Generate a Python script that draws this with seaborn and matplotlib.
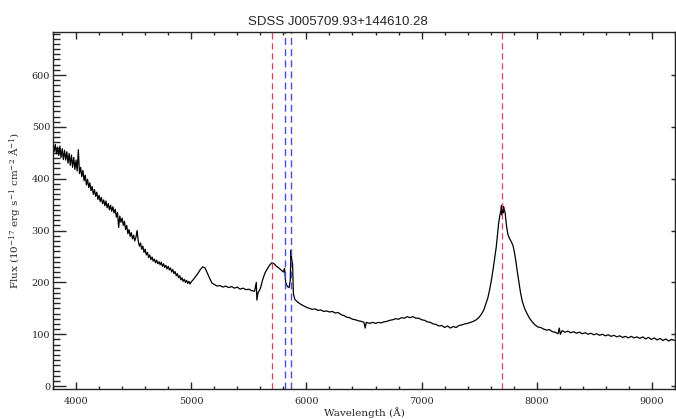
import numpy as np
import pandas as pd
import matplotlib
matplotlib.use("Agg")
import matplotlib.pyplot as plt
from matplotlib.ticker import MultipleLocator
import seaborn as sns

# ---------------- data ----------------
wave_blue = [
    3800, 3810, 3820, 3830, 3840, 3850, 3860, 3870, 3880, 3890,
    3900, 3910, 3920, 3930, 3940, 3950, 3960, 3970, 3980, 3990,
    4000, 4010, 4020, 4030, 4040, 4050, 4060, 4070, 4080, 4090,
    4100, 4110, 4120, 4130, 4140, 4150, 4160, 4170, 4180, 4190,
    4200, 4210, 4220, 4230, 4240, 4250, 4260, 4270, 4280, 4290,
    4300, 4310, 4320, 4330, 4340, 4350, 4360, 4370, 4380, 4390,
    4400, 4410, 4420, 4430, 4440, 4450, 4460, 4470, 4480, 4490,
    4500, 4510, 4520, 4530, 4540, 4550, 4560, 4570, 4580, 4590,
    4600, 4610, 4620, 4630, 4640, 4650, 4660, 4670, 4680, 4690,
    4700, 4710, 4720, 4730, 4740, 4750, 4760, 4770, 4780, 4790,
    4800, 4810, 4820, 4830, 4840, 4850, 4860, 4870, 4880, 4890,
    4900, 4910, 4920, 4930, 4940, 4950, 4960, 4970, 4980, 4990,
]
flux_blue = [
    470, 452, 466, 448, 461, 445, 463, 441, 458, 437,
    455, 436, 452, 430, 449, 426, 446, 422, 441, 418,
    436, 415, 456, 410, 422, 404, 416, 396, 407, 388,
    399, 383, 392, 377, 385, 370, 379, 366, 374, 360,
    368, 356, 364, 352, 359, 348, 357, 344, 352, 340,
    349, 337, 346, 334, 341, 326, 335, 306, 328, 316,
    324, 310, 318, 302, 310, 294, 302, 289, 296, 284,
    291, 280, 287, 300, 280, 270, 276, 264, 270, 258,
    264, 253, 258, 248, 253, 244, 249, 241, 245, 238,
    243, 236, 240, 234, 239, 231, 236, 229, 233, 226,
    231, 224, 228, 220, 225, 217, 221, 213, 217, 209,
    213, 205, 209, 202, 206, 200, 204, 198, 202, 197,
]
wave_red = [
    5000, 5020, 5040, 5060, 5080, 5100, 5120, 5140, 5160, 5180,
    5200, 5225, 5250, 5275, 5300, 5325, 5350, 5375, 5400, 5425,
    5450, 5475, 5500, 5525, 5550, 5565, 5570, 5580, 5600, 5620,
    5640, 5660, 5680, 5700, 5720, 5740, 5760, 5780, 5800, 5810,
    5820, 5835, 5850, 5860, 5866, 5872, 5880, 5887, 5900, 5925,
    5950, 5975, 6000, 6025, 6050, 6075, 6100, 6125, 6150, 6175,
    6200, 6225, 6250, 6275, 6300, 6325, 6350, 6375, 6400, 6425,
    6450, 6475, 6500, 6510, 6520, 6550, 6575, 6600, 6625, 6650,
    6675, 6700, 6725, 6750, 6775, 6800, 6825, 6850, 6875, 6900,
    6925, 6950, 6975, 7000, 7025, 7050, 7075, 7100, 7125, 7150,
    7175, 7200, 7225, 7250, 7275, 7300, 7325, 7350, 7375, 7400,
    7425, 7450, 7475, 7500, 7520, 7540, 7560, 7575, 7590, 7605,
    7620, 7635, 7648, 7660, 7670, 7680, 7688, 7693, 7697, 7702,
    7707, 7712, 7718, 7725, 7732, 7740, 7750, 7765, 7780, 7795,
    7807, 7818, 7829, 7845, 7859, 7875, 7894, 7915, 7937, 7960,
    7985, 8010, 8035, 8060, 8085, 8110, 8135, 8160, 8185, 8195,
    8205, 8220, 8245, 8270, 8295, 8320, 8345, 8370, 8395, 8420,
    8445, 8470, 8495, 8520, 8545, 8570, 8595, 8620, 8645, 8670,
    8695, 8720, 8745, 8770, 8795, 8820, 8845, 8870, 8895, 8920,
    8945, 8970, 8995, 9020, 9045, 9070, 9095, 9120, 9145, 9170,
    9200,
]
flux_red = [
    201, 206, 212, 218, 225, 230, 228, 218, 208, 199,
    196, 193, 194, 191, 193, 190, 192, 189, 191, 187,
    189, 186, 187, 184, 183, 200, 166, 180, 188, 205,
    218, 226, 233, 238, 236, 231, 228, 224, 220, 227,
    200, 192, 190, 204, 262, 245, 236, 178, 167, 162,
    158, 155, 152, 150, 148, 149, 146, 147, 144, 145,
    143, 144, 141, 142, 138, 136, 133, 132, 129, 128,
    126, 125, 123, 112, 123, 121, 123, 121, 123, 122,
    124, 125, 127, 128, 130, 129, 132, 131, 134, 132,
    134, 131, 131, 128, 127, 124, 123, 120, 119, 116,
    117, 113, 116, 112, 115, 113, 117, 118, 120, 121,
    123, 125, 128, 133, 139, 147, 160, 170, 185, 203,
    224, 248, 268, 295, 316, 330, 338, 348, 330, 350,
    334, 346, 340, 335, 320, 305, 292, 284, 278, 270,
    257, 242, 224, 200, 180, 163, 150, 140, 131, 124,
    118, 114, 113, 110, 108, 109, 105, 104, 101, 112,
    100, 107, 104, 106, 103, 105, 102, 104, 101, 103,
    100, 102, 99, 101, 98, 100, 97, 99, 96, 98,
    95, 97, 94, 96, 93, 96, 93, 95, 92, 95,
    91, 94, 90, 93, 89, 92, 88, 91, 87, 90,
    88,
]
red_lines = [5700, 7700]
blue_lines = [5818, 5870]
title = "SDSS J005709.93+144610.28"
xlabel = "Wavelength (Å)"
ylabel = r"Flux (10$^{-17}$ erg s$^{-1}$ cm$^{-2}$ Å$^{-1}$)"

df = pd.DataFrame({"wavelength": wave_blue + wave_red,
                   "flux": flux_blue + flux_red})

# ---------------- styling ----------------
sns.set_style("ticks")
plt.rcParams["font.family"] = ["DejaVu Serif"]
plt.rcParams["mathtext.fontset"] = "dejavuserif"
plt.rcParams["xtick.direction"] = "in"
plt.rcParams["ytick.direction"] = "in"

fig = plt.figure(figsize=(6.76, 4.19), dpi=100)
ax = fig.add_axes([0.0784, 0.0723, 0.9201, 0.8513])

sns.lineplot(data=df, x="wavelength", y="flux", color="black",
             linewidth=0.9, sort=False, estimator=None, ax=ax)

for w in red_lines:
    ax.axvline(w, color="#e0405a", lw=0.9, ls=(0, (5, 3)))
for w in blue_lines:
    ax.axvline(w, color="#4a4ae6", lw=1.0, ls=(0, (5, 3)))

ax.set_xlim(3800, 9200)
ax.set_ylim(-5, 683)

ax.xaxis.set_major_locator(MultipleLocator(1000))
ax.xaxis.set_minor_locator(MultipleLocator(200))
ax.yaxis.set_major_locator(MultipleLocator(100))
ax.yaxis.set_minor_locator(MultipleLocator(10))

ax.tick_params(axis="x", which="major", length=5, width=1.0, top=True,
               bottom=True, labelsize=7, pad=6)
ax.tick_params(axis="x", which="minor", length=2.3, width=1.0, top=True,
               bottom=True)
ax.tick_params(axis="y", which="major", length=9.5, width=1.0, left=True,
               right=False, labelsize=7, pad=2)
ax.tick_params(axis="y", which="minor", length=5, width=1.0, left=True,
               right=False)

sec = ax.secondary_yaxis("right")
sec.yaxis.set_major_locator(MultipleLocator(100))
sec.tick_params(axis="y", which="major", length=3, width=1.0, direction="in",
                labelright=False)
sec.yaxis.set_minor_locator(plt.NullLocator())

for s in ax.spines.values():
    s.set_linewidth(1.0)
    s.set_visible(True)

ax.set_xlabel(xlabel, fontsize=7.5, labelpad=1)
ax.set_ylabel(ylabel, fontsize=7.5, labelpad=6)
fig.text(0.5, 0.94, title, ha="center", va="baseline", fontsize=9.5,
         family=["Liberation Sans", "DejaVu Sans"])

fig.savefig("out.png", dpi=100)
